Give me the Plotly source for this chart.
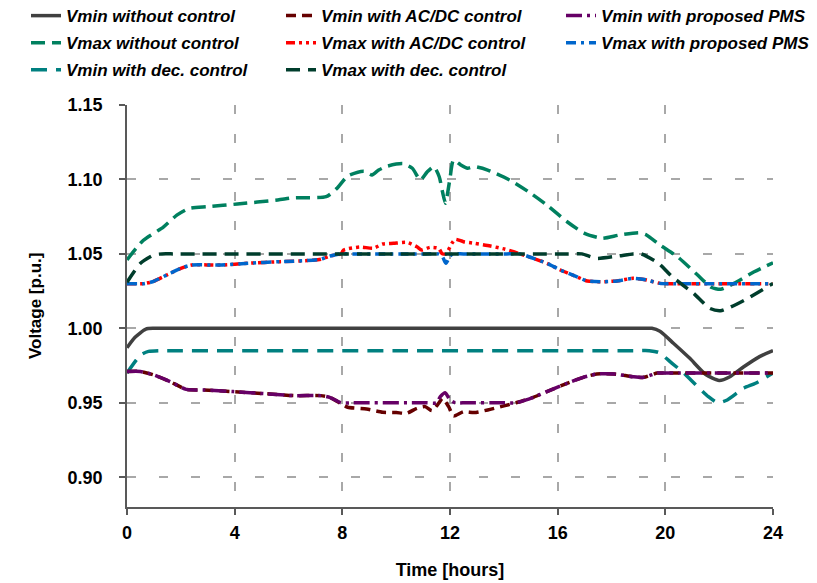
import plotly.graph_objects as go

# ---------------- data ----------------
x_ticks = [0, 4, 8, 12, 16, 20, 24]
y_ticks = [0.90, 0.95, 1.00, 1.05, 1.10, 1.15]

t_vmin_nc = [0, 0.3, 0.7, 1.0, 1.5, 10.0, 19.0, 19.5, 19.8, 20.3, 20.9, 21.5, 22.0, 22.4, 22.9, 23.5, 24]
v_vmin_nc = [0.987, 0.994, 0.9995, 1.0, 1.0, 1.0, 1.0, 1.0, 0.998, 0.990, 0.980, 0.969, 0.965,
             0.9675, 0.974, 0.981, 0.985]

t_vmax_nc = [0, 0.6, 1.35, 1.85, 2.3, 3.0, 4.1, 5.6, 6.2, 7.4, 7.8, 8.2, 8.8, 9.1, 9.35, 9.65,
             10.25, 10.6, 10.9, 11.15, 11.4, 11.6, 11.72, 11.83, 11.9, 12.0, 12.13, 12.4, 12.65,
             12.9, 13.4, 14.25, 15.0, 15.6, 16.35, 17.0, 17.65, 18.3, 19.05, 19.3, 19.8, 20.45,
             21.2, 21.7, 22.05, 22.55, 23.3, 24]
v_vmax_nc = [1.046, 1.059, 1.068, 1.076, 1.0805, 1.0817, 1.0835, 1.0862, 1.0877, 1.0884, 1.094,
             1.1023, 1.1055, 1.103, 1.1063, 1.1088, 1.1106, 1.1075, 1.0996, 1.105, 1.1086, 1.1018,
             1.0918, 1.084, 1.0896, 1.1007, 1.113, 1.1097, 1.1075, 1.1086, 1.1063, 1.0993, 1.0907,
             1.0828, 1.0716, 1.0638, 1.0605, 1.0627, 1.0642, 1.0627, 1.056, 1.0481, 1.0358, 1.0276,
             1.0262, 1.0302, 1.038, 1.044]

t_vmin_dec = [0, 0.5, 0.8, 1.2, 1.8, 10.0, 18.9, 19.4, 19.75, 20.25, 20.7, 20.95, 21.6, 21.95,
              22.3, 22.9, 23.35, 24]
v_vmin_dec = [0.970, 0.982, 0.9845, 0.985, 0.985, 0.985, 0.985, 0.985, 0.9838, 0.9765, 0.9698,
              0.9653, 0.9541, 0.950, 0.9519, 0.9597, 0.9631, 0.970]

t_vmax_dec = [0, 0.5, 1.0, 1.3, 1.8, 9.0, 16.4, 16.9, 17.45, 18.25, 18.8, 19.1, 19.75, 20.25,
              21.05, 21.65, 22.05, 22.4, 23.0, 23.9, 24]
v_vmax_dec = [1.031, 1.0437, 1.0493, 1.05, 1.05, 1.05, 1.05, 1.05, 1.047, 1.0486, 1.05, 1.05,
              1.0437, 1.0347, 1.0235, 1.0134, 1.0118, 1.0141, 1.0195, 1.0291, 1.030]

t_vmin_acdc = [0, 0.5, 1.0, 1.6, 2.2, 2.85, 3.95, 5.2, 6.2, 7.2, 7.55, 7.95, 8.2, 8.9, 9.5, 10.0,
               10.4, 10.77, 11.08, 11.33, 11.58, 11.72, 11.95, 12.13, 12.5, 12.9, 13.4, 14.0, 14.45,
               15.1, 15.6, 16.35, 16.95, 17.45, 18.1, 18.8, 19.2, 19.7, 20.0, 20.5, 24]
v_vmin_acdc = [0.971, 0.971, 0.9687, 0.9642, 0.959, 0.9586, 0.9575, 0.956, 0.9548, 0.9548, 0.9535,
               0.9495, 0.947, 0.9458, 0.9436, 0.9434, 0.943, 0.9463, 0.9474, 0.9447, 0.9497, 0.953,
               0.9474, 0.9411, 0.944, 0.9434, 0.9452, 0.9479, 0.950, 0.9537, 0.9575, 0.9631, 0.9671,
               0.9693, 0.9693, 0.9675, 0.9671, 0.970, 0.970, 0.970, 0.970]

t_vmax_acdc = [0, 0.6, 0.95, 1.5, 2.0, 2.4, 3.5, 4.5, 5.7, 6.7, 7.2, 7.55, 7.95, 8.05, 8.65, 9.15,
               9.5, 9.9, 10.4, 10.77, 10.95, 11.26, 11.58, 11.7, 11.85, 12.07, 12.2, 12.5, 12.9,
               13.5, 14.05, 14.36, 14.6, 15.1, 15.6, 16.1, 16.7, 17.1, 17.6, 18.2, 18.8, 19.3,
               19.8, 20.3, 24]
v_vmax_acdc = [1.030, 1.030, 1.0313, 1.036, 1.0403, 1.0425, 1.0425, 1.0437, 1.0448, 1.0455, 1.0464,
               1.0486, 1.05, 1.0526, 1.0546, 1.0538, 1.0566, 1.0571, 1.0577, 1.0548, 1.0526, 1.0544,
               1.0537, 1.0503, 1.050, 1.0571, 1.0598, 1.0582, 1.0571, 1.0553, 1.0531, 1.0515, 1.05,
               1.047, 1.0437, 1.0392, 1.0347, 1.0318, 1.0313, 1.0318, 1.0336, 1.0325, 1.0302,
               1.030, 1.030]

t_vmin_pms = [0, 0.5, 1.0, 1.6, 2.2, 2.85, 3.95, 5.2, 6.2, 7.2, 7.55, 7.95, 8.4, 11.1, 11.5, 11.64,
              11.82, 12.0, 12.2, 12.6, 14.0, 14.45, 15.1, 15.6, 16.35, 16.95, 17.45, 18.1, 18.8,
              19.2, 19.7, 20.0, 20.5, 24]
v_vmin_pms = [0.971, 0.971, 0.9687, 0.9642, 0.959, 0.9586, 0.9575, 0.956, 0.9548, 0.9548, 0.9535,
              0.950, 0.950, 0.950, 0.950, 0.9541, 0.9568, 0.9519, 0.950, 0.950, 0.950, 0.950,
              0.9537, 0.9575, 0.9631, 0.9671, 0.9693, 0.9693, 0.9675, 0.9671, 0.970, 0.970,
              0.970, 0.970]

t_vmax_pms = [0, 0.6, 0.95, 1.5, 2.0, 2.4, 3.5, 4.5, 5.7, 6.7, 7.2, 7.55, 7.95, 8.4, 11.1, 11.55,
              11.72, 11.85, 11.98, 12.1, 12.5, 14.1, 14.6, 15.1, 15.6, 16.1, 16.7, 17.1, 17.6,
              18.2, 18.8, 19.3, 19.8, 20.3, 24]
v_vmax_pms = [1.030, 1.030, 1.0313, 1.036, 1.0403, 1.0425, 1.0425, 1.0437, 1.0448, 1.0455, 1.0464,
              1.0486, 1.05, 1.05, 1.05, 1.05, 1.048, 1.0437, 1.048, 1.05, 1.05, 1.05, 1.05, 1.047,
              1.0437, 1.0392, 1.0347, 1.0318, 1.0313, 1.0318, 1.0336, 1.0325, 1.0302, 1.030, 1.030]

# ---------------- styles ----------------
series = [
    ("Vmin without control", t_vmin_nc, v_vmin_nc, "#404040", "solid", "legend"),
    ("Vmax without control", t_vmax_nc, v_vmax_nc, "#00805F", "14px,7px", "legend"),
    ("Vmin with dec. control", t_vmin_dec, v_vmin_dec, "#008080", "16px,9px", "legend"),
    ("Vmin with AC/DC control", t_vmin_acdc, v_vmin_acdc, "#660000", "10px,6px", "legend2"),
    ("Vmax with AC/DC control", t_vmax_acdc, v_vmax_acdc, "#FF0000", "9px,4px,3px,4px,3px,4px", "legend2"),
    ("Vmin with proposed PMS", t_vmin_pms, v_vmin_pms, "#660066", "16px,5px,3px,5px", "legend3"),
    ("Vmax with proposed PMS", t_vmax_pms, v_vmax_pms, "#0066CC", "10px,5px,3px,5px", "legend3"),
    ("Vmax with dec. control", t_vmax_dec, v_vmax_dec, "#003D2C", "14px,8px", "legend2"),
]

FONT = "Liberation Sans, Arial, sans-serif"

fig = go.Figure()
for name, tx, vy, col, dash, leg in series:
    fig.add_trace(go.Scatter(
        x=tx, y=vy, mode="lines", name=name, legend=leg, legendgroup=name,
        line=dict(color=col, width=3.5, dash=dash, shape="spline", smoothing=0.6),
    ))

legfont = dict(family=FONT, size=17, color="#000000", weight="bold", style="italic")
common_leg = dict(xref="container", yref="paper", xanchor="left", yanchor="top",
                  orientation="v", font=legfont, bgcolor="rgba(0,0,0,0)",
                  tracegroupgap=2, itemwidth=30)

fig.update_layout(
    width=817, height=583,
    margin=dict(l=119, r=52, t=97, b=84, autoexpand=False),
    paper_bgcolor="white", plot_bgcolor="white",
    font=dict(family=FONT, color="#000000"),
    legend=dict(x=18 / 817, y=1.266, **common_leg),
    legend2=dict(x=273 / 817, y=1.266, **common_leg),
    legend3=dict(x=553 / 817, y=1.266, **common_leg),
    xaxis=dict(
        range=[0, 24], tickvals=x_ticks, ticktext=[str(v) for v in x_ticks],
        showline=True, linecolor="#595959", linewidth=1.5,
        ticks="outside", ticklen=6, tickwidth=1.5, tickcolor="#595959",
        showgrid=True, gridcolor="#A8A8A8", gridwidth=1.5, griddash="9px,20px",
        zeroline=False, mirror=False, ticklabelstandoff=3,
        tickfont=dict(family=FONT, size=18, weight="bold", color="#000000"),
        title=dict(text="Time [hours]", standoff=21,
                   font=dict(family=FONT, size=18, weight="bold", color="#000000")),
    ),
    yaxis=dict(
        range=[0.88, 1.15], tickvals=y_ticks, tickformat=".2f",
        showline=True, linecolor="#595959", linewidth=1.5,
        ticks="outside", ticklen=6, tickwidth=1.5, tickcolor="#595959",
        showgrid=True, gridcolor="#A8A8A8", gridwidth=1.5, griddash="9px,23px",
        zeroline=False, mirror=False,
        ticklabelstandoff=13,
        tickfont=dict(family=FONT, size=18, weight="bold", color="#000000"),
    ),
    annotations=[dict(
        text="Voltage [p.u.]", textangle=-90, showarrow=False,
        xref="paper", yref="paper", x=(27 - 119) / 646, y=0.5,
        xanchor="center", yanchor="middle",
        font=dict(family=FONT, size=17, weight="bold", color="#000000"),
    )],
)

fig.write_html("out.html")
